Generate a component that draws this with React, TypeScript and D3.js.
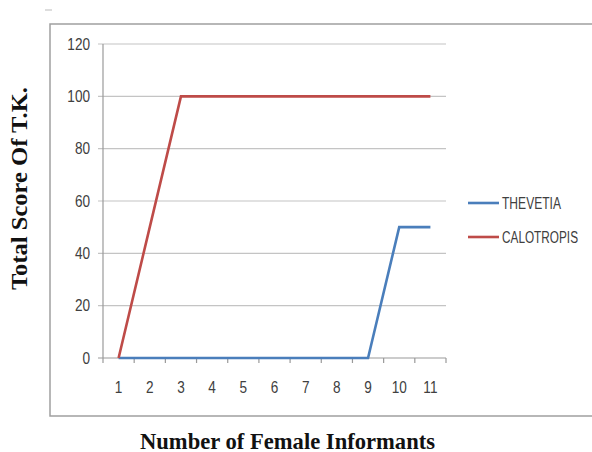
import React from "react";
import * as d3 from "d3";

const informants = ["1", "2", "3", "4", "5", "6", "7", "8", "9", "10", "11"];
const thevetia = [0, 0, 0, 0, 0, 0, 0, 0, 0, 50, 50];
const calotropis = [0, 50, 100, 100, 100, 100, 100, 100, 100, 100, 100];
const yTicks = [0, 20, 40, 60, 80, 100, 120];
const seriesNames = ["THEVETIA", "CALOTROPIS"];
const seriesColors = ["#4a7ebb", "#be4b48"];
const legendWidths = [59, 76];

const W = 592;
const H = 452;
const plot = { left: 103, right: 446, top: 44, bottom: 358 };

export default function App() {
  const x = d3
    .scaleBand<string>()
    .domain(informants)
    .range([plot.left, plot.right])
    .paddingInner(0)
    .paddingOuter(0);
  const y = d3.scaleLinear().domain([0, 120]).range([plot.bottom, plot.top]);
  const cx = (c: string) => (x(c) ?? 0) + x.bandwidth() / 2;

  const line = d3
    .line<number>()
    .x((_, i) => cx(informants[i]))
    .y((v) => y(v));

  const series = [thevetia, calotropis];
  const tickFont = "'Liberation Sans', Arial, sans-serif";
  const titleFont = "'Liberation Serif', 'Times New Roman', serif";
  const boundaries = [...informants.map((c) => x(c) ?? 0), plot.right];
  const narrow = 0.85;

  return (
    <svg
      width={W}
      height={H}
      style={{ position: "absolute", left: 0, top: 0, background: "#fff" }}
    >
      {/* small mark above the frame */}
      <line x1={45} x2={52} y1={10} y2={10} stroke="#bbb" strokeWidth={1} />

      {/* chart frame (open on the right) */}
      <polyline
        points={`${W + 2},24 50,24 50,416 ${W + 2},416`}
        fill="none"
        stroke="#a0a0a0"
        strokeWidth={1.5}
      />

      {/* horizontal gridlines */}
      {yTicks.map((t) => (
        <line
          key={`g${t}`}
          x1={plot.left - 5}
          x2={plot.right}
          y1={y(t)}
          y2={y(t)}
          stroke={t === 0 ? "#9a9a9a" : "#c4c4c4"}
          strokeWidth={1.2}
        />
      ))}
      {/* y axis line */}
      <line
        x1={plot.left}
        x2={plot.left}
        y1={plot.top}
        y2={plot.bottom}
        stroke="#9a9a9a"
        strokeWidth={1.2}
      />
      {/* x axis ticks at category boundaries */}
      {boundaries.map((bx, i) => (
        <line
          key={`t${i}`}
          x1={bx}
          x2={bx}
          y1={plot.bottom}
          y2={plot.bottom + 5}
          stroke="#9a9a9a"
          strokeWidth={1.2}
        />
      ))}

      {/* y tick labels */}
      {yTicks.map((t) => (
        <text
          key={`yl${t}`}
          transform={`translate(${plot.left - 13}, ${y(t)}) scale(${narrow}, 1)`}
          dy="0.36em"
          textAnchor="end"
          fontFamily={tickFont}
          fontSize={16}
          fill="#404040"
        >
          {t}
        </text>
      ))}
      {/* x tick labels */}
      {informants.map((c) => (
        <text
          key={`xl${c}`}
          transform={`translate(${cx(c)}, ${plot.bottom + 35}) scale(${narrow}, 1)`}
          textAnchor="middle"
          fontFamily={tickFont}
          fontSize={16}
          fill="#404040"
        >
          {c}
        </text>
      ))}

      {/* series lines */}
      {series.map((s, i) => (
        <path
          key={seriesNames[i]}
          d={line(s) ?? ""}
          fill="none"
          stroke={seriesColors[i]}
          strokeWidth={2.6}
          strokeLinejoin="miter"
        />
      ))}

      {/* legend */}
      {seriesNames.map((n, i) => (
        <g key={`lg${n}`} transform={`translate(468, ${203 + i * 34})`}>
          <line x1={0} x2={31} y1={0} y2={0} stroke={seriesColors[i]} strokeWidth={2.6} />
          <text
            x={34}
            y={0}
            dy="0.36em"
            fontFamily={tickFont}
            fontSize={16}
            textLength={legendWidths[i]}
            lengthAdjust="spacingAndGlyphs"
            fill="#404040"
          >
            {n}
          </text>
        </g>
      ))}

      {/* axis titles */}
      <text
        transform="translate(27, 188.5) rotate(-90)"
        textAnchor="middle"
        fontFamily={titleFont}
        fontWeight="bold"
        fontSize={23}
        textLength={203}
        lengthAdjust="spacingAndGlyphs"
        fill="#111"
      >
        Total Score Of T.K.
      </text>
      <text
        x={287.5}
        y={449}
        textAnchor="middle"
        fontFamily={titleFont}
        fontWeight="bold"
        fontSize={23}
        textLength={295}
        lengthAdjust="spacingAndGlyphs"
        fill="#111"
      >
        Number of Female Informants
      </text>
    </svg>
  );
}
